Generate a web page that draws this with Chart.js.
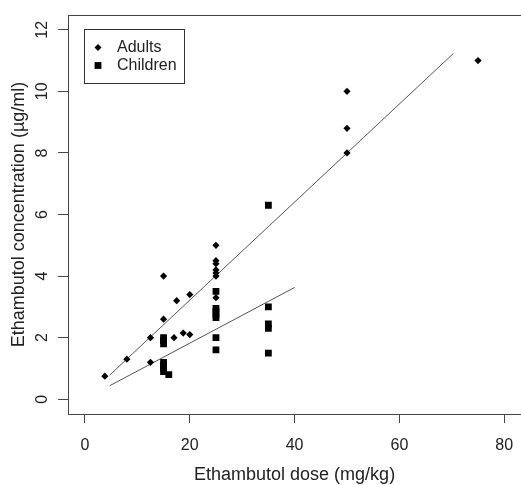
<!DOCTYPE html>
<html><head><meta charset="utf-8">
<script src="https://cdn.jsdelivr.net/npm/chart.js@4/dist/chart.umd.min.js"></script>
<style>html,body{margin:0;padding:0;background:#fff}#wrap{width:521px;height:485px;position:relative}</style>
</head><body><div id="wrap"><canvas id="c" width="521" height="485"></canvas></div>
<script>
// ---- data ----
const seriesLabels = ['Adults', 'Children'];
const adultsDose = [3.8, 8, 12.5, 12.5, 15, 15, 17, 17.5, 18.75, 20, 20, 25, 25, 25, 25, 25, 25, 25, 50, 50, 50, 75];
const adultsConc = [0.75, 1.3, 2.0, 1.2, 2.6, 4.0, 2.0, 3.2, 2.15, 2.1, 3.4, 5.0, 4.5, 4.4, 4.2, 4.1, 4.0, 3.3, 10.0, 8.8, 8.0, 11.0];
const childrenDose = [15, 15, 15, 15, 15, 15, 15, 16, 25, 25, 25, 25, 25, 25, 25, 35, 35, 35, 35, 35];
const childrenConc = [2.0, 1.9, 1.8, 1.2, 1.1, 1.0, 0.9, 0.8, 3.5, 2.95, 2.85, 2.75, 2.65, 2.0, 1.6, 6.3, 3.0, 2.45, 2.3, 1.5];
const adultFitDose = [4.7, 70.3];
const adultFitConc = [0.78, 11.23];
const childFitDose = [4.75, 40];
const childFitConc = [0.44, 3.63];
const xTicks = [0, 20, 40, 60, 80];
const yTicks = [0, 2, 4, 6, 8, 10, 12];
const xTitle = 'Ethambutol dose (mg/kg)';
const yTitle = 'Ethambutol concentration (\u00B5g/ml)';

const pts = (xs, ys) => xs.map((x, i) => ({x: x, y: ys[i]}));
const FONT = '"Liberation Sans", Arial, sans-serif';

const boxPlugin = {
  id: 'rbox',
  beforeDatasetsDraw(chart) {
    const a = chart.chartArea, ctx = chart.ctx;
    ctx.save();
    ctx.strokeStyle = '#444';
    ctx.lineWidth = 1;
    const l = Math.floor(a.left) + 0.5, t = Math.floor(a.top) + 0.5, b = Math.floor(a.bottom) + 0.5, r = Math.floor(a.right) + 0.5;
    ctx.strokeRect(l, t, r - l, b - t);
    ctx.restore();
  }
};

const legendPlugin = {
  id: 'rlegend',
  afterDatasetsDraw(chart) {
    const ctx = chart.ctx;
    ctx.save();
    ctx.strokeStyle = '#333';
    ctx.lineWidth = 1;
    ctx.strokeRect(84.5, 29.5, 100, 54);
    ctx.fillStyle = '#000';
    const dx = 98, dy = 47.5, r = 3.5;
    ctx.beginPath();
    ctx.moveTo(dx - r, dy); ctx.lineTo(dx, dy - r); ctx.lineTo(dx + r, dy); ctx.lineTo(dx, dy + r);
    ctx.closePath(); ctx.fill();
    ctx.fillRect(98 - 3.4, 65.5 - 3.4, 6.8, 6.8);
    ctx.fillStyle = '#222';
    ctx.font = '16px ' + FONT;
    ctx.textBaseline = 'middle';
    ctx.textAlign = 'left';
    ctx.fillText(chart.data.datasets[0].label, 117, 48);
    ctx.fillText(chart.data.datasets[1].label, 117, 66);
    ctx.restore();
  }
};

new Chart(document.getElementById('c'), {
  type: 'scatter',
  data: {
    datasets: [
      {label: seriesLabels[0], data: pts(adultsDose, adultsConc), pointStyle: 'rectRot', pointRadius: 3.6, backgroundColor: '#000', borderWidth: 0, order: 1},
      {label: seriesLabels[1], data: pts(childrenDose, childrenConc), pointStyle: 'rect', pointRadius: 4.8, backgroundColor: '#000', borderWidth: 0, order: 1},
      {label: 'fitA', data: pts(adultFitDose, adultFitConc), showLine: true, pointRadius: 0, borderColor: '#555', borderWidth: 1, order: 2},
      {label: 'fitC', data: pts(childFitDose, childFitConc), showLine: true, pointRadius: 0, borderColor: '#555', borderWidth: 1, order: 2}
    ]
  },
  options: {
    responsive: false,
    animation: false,
    devicePixelRatio: 1,
    layout: {autoPadding: false, padding: {left: 0, top: 15, right: -1.8, bottom: 0}},
    plugins: {legend: {display: false}, tooltip: {enabled: false}},
    scales: {
      x: {
        type: 'linear', min: -3.2, max: 83.2,
        afterBuildTicks: s => { s.ticks = xTicks.map(v => ({value: v})); },
        afterFit: s => { s.height = 71; s.paddingLeft = 0; s.paddingRight = -1.8; },
        border: {display: false},
        grid: {drawOnChartArea: false, drawTicks: true, tickLength: 9, color: '#444'},
        ticks: {font: {family: FONT, size: 16}, color: '#222', padding: 13, maxRotation: 0},
        title: {display: true, text: xTitle, font: {family: FONT, size: 18}, color: '#222', padding: {top: 0, bottom: -1}}
      },
      y: {
        type: 'linear', min: -0.48, max: 12.48,
        afterBuildTicks: s => { s.ticks = yTicks.map(v => ({value: v})); },
        afterFit: s => { s.width = 68.16; s.paddingTop = 0; s.paddingBottom = 0; },
        border: {display: false},
        grid: {drawOnChartArea: false, drawTicks: true, tickLength: 10, color: '#444'},
        ticks: {font: {family: FONT, size: 16}, color: '#222', padding: 7, minRotation: 90, maxRotation: 90, crossAlign: 'center'},
        title: {display: true, text: yTitle, font: {family: FONT, size: 18}, color: '#222', padding: {top: 8, bottom: 0}}
      }
    }
  },
  plugins: [boxPlugin, legendPlugin]
});
</script></body></html>
